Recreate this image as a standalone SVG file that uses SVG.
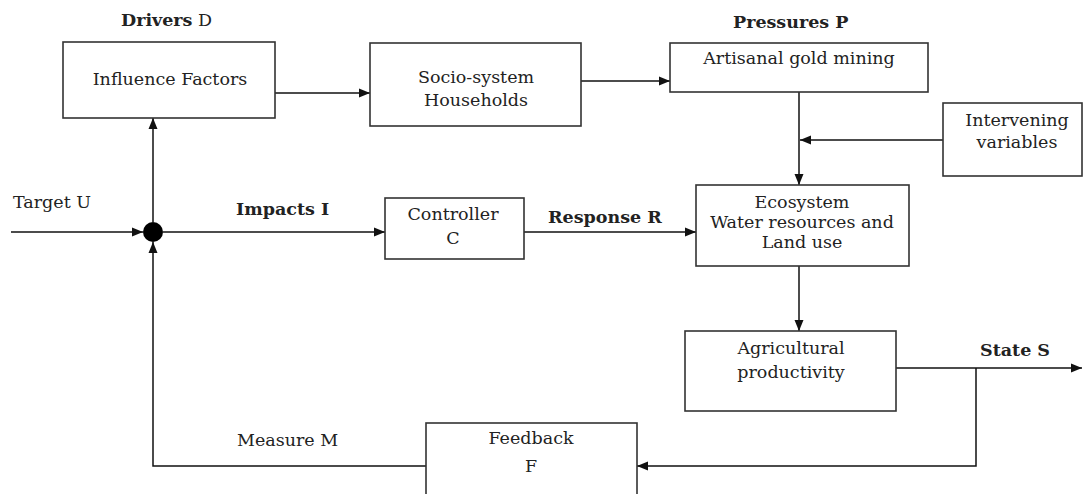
<svg xmlns="http://www.w3.org/2000/svg" width="1084" height="494" viewBox="0 0 1084 494">
<defs>
<marker id="ah" markerUnits="userSpaceOnUse" markerWidth="12" markerHeight="10" refX="11" refY="5" orient="auto">
<path d="M0,0.5 L11,5 L0,9.5 Z" fill="#111"/>
</marker>
<style>
.box{fill:#fff;stroke:#333;stroke-width:1.6}
.t{font-family:"DejaVu Serif","Liberation Serif",serif;font-size:17.5px;fill:#222}
.c{text-anchor:middle}
.b{font-weight:bold}
.ln{fill:none;stroke:#111;stroke-width:1.5}
</style>
</defs>
<rect width="1084" height="494" fill="#fff"/>
<g id="connectors">
<path class="ln" d="M275,93 H370" marker-end="url(#ah)"/>
<path class="ln" d="M581,81 H670" marker-end="url(#ah)"/>
<path class="ln" d="M799,92 V185" marker-end="url(#ah)"/>
<path class="ln" d="M943,140 H800" marker-end="url(#ah)"/>
<path class="ln" d="M799,266 V331" marker-end="url(#ah)"/>
<path class="ln" d="M11,232 H143" marker-end="url(#ah)"/>
<path class="ln" d="M163,232 H385" marker-end="url(#ah)"/>
<path class="ln" d="M524,232 H696" marker-end="url(#ah)"/>
<path class="ln" d="M153,222 V118" marker-end="url(#ah)"/>
<path class="ln" d="M896,368 H1082" marker-end="url(#ah)"/>
<path class="ln" d="M976,368 V466 H637" marker-end="url(#ah)"/>
<path class="ln" d="M426,466 H153 V242" marker-end="url(#ah)"/>
</g>
<g id="junction"><circle cx="153" cy="232" r="10" fill="#000"/></g>
<g id="influence">
<rect class="box" x="63" y="42" width="212" height="76"/>
<text class="t c" x="170" y="85">Influence Factors</text>
</g>
<g id="socio">
<rect class="box" x="370" y="43" width="211" height="83"/>
<text class="t c" x="476" y="83">Socio-system</text>
<text class="t c" x="476" y="106">Households</text>
</g>
<g id="artisanal">
<rect class="box" x="670" y="43" width="258" height="49"/>
<text class="t c" x="799" y="64">Artisanal gold mining</text>
</g>
<g id="intervening">
<rect class="box" x="943" y="103" width="139" height="73"/>
<text class="t c" x="1017" y="126">Intervening</text>
<text class="t c" x="1017" y="148">variables</text>
</g>
<g id="ecosystem">
<rect class="box" x="696" y="185" width="213" height="81"/>
<text class="t c" x="802" y="208">Ecosystem</text>
<text class="t c" x="802" y="228">Water resources and</text>
<text class="t c" x="802" y="248">Land use</text>
</g>
<g id="controller">
<rect class="box" x="385" y="198" width="139" height="61"/>
<text class="t c" x="453" y="220">Controller</text>
<text class="t c" x="453" y="244">C</text>
</g>
<g id="agricultural">
<rect class="box" x="685" y="331" width="211" height="80"/>
<text class="t c" x="791" y="354">Agricultural</text>
<text class="t c" x="791" y="378">productivity</text>
</g>
<g id="feedback">
<rect class="box" x="426" y="423" width="211" height="80"/>
<text class="t c" x="531" y="444">Feedback</text>
<text class="t c" x="531" y="472">F</text>
</g>
<g id="labels">
<text class="t" x="121" y="26"><tspan class="b">Drivers</tspan> D</text>
<text class="t b" x="733" y="28">Pressures P</text>
<text class="t" x="13" y="208">Target U</text>
<text class="t b" x="236" y="215">Impacts I</text>
<text class="t b" x="548" y="223">Response R</text>
<text class="t b" x="980" y="356">State S</text>
<text class="t" x="237" y="446">Measure M</text>
</g>
</svg>
